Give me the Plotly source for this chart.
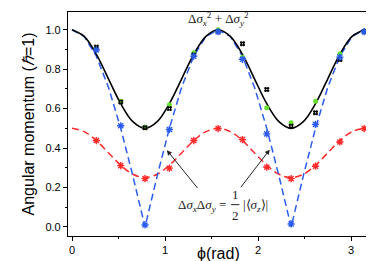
import plotly.graph_objects as go

# theory curves (read at phi = k*pi/24)
phi = [0, 0.131, 0.262, 0.393, 0.524, 0.654, 0.785, 0.916, 1.047, 1.178, 1.309, 1.440,
       1.571, 1.702, 1.833, 1.963, 2.094, 2.225, 2.356, 2.487, 2.618, 2.749, 2.880, 3.011, 3.142]
sum_var = [1, .966, .875, .75, .625, .534, .5, .534, .625, .75, .875, .966,
           1, .966, .875, .75, .625, .534, .5, .534, .625, .75, .875, .966, 1]
half_sz = [1, .966, .866, .707, .5, .259, 0, .259, .5, .707, .866, .966,
           1, .966, .866, .707, .5, .259, 0, .259, .5, .707, .866, .966, 1]
prod_dev = [.5, .483, .438, .375, .313, .267, .25, .267, .313, .375, .438, .483,
            .5, .483, .438, .375, .313, .267, .25, .267, .313, .375, .438, .483, .5]

# measured points (phi = k*pi/12)
mphi = [0.262, 0.524, 0.785, 1.047, 1.309, 1.571, 1.833, 2.094, 2.356, 2.618, 2.880, 3.142]
m_black = [0.912, 0.634, 0.503, 0.600, 0.872, 0.990, 0.929, 0.697, 0.511, 0.579, 0.849, 0.990]
m_green = [0.905, 0.638, 0.507, 0.620, 0.883, 1.000, 0.861, 0.604, 0.528, 0.638, 0.878, 0.995]
m_blue = [0.897, 0.513, 0.010, 0.494, 0.866, 0.990, 0.850, 0.472, 0.015, 0.520, 0.861, 0.990]
m_red = [0.438, 0.311, 0.245, 0.298, 0.438, 0.499, 0.443, 0.303, 0.245, 0.308, 0.431, 0.499]

BLUE = "#2b5cf0"
RED = "#ff2a2a"
GREEN = "#66e02a"

fig = go.Figure()
fig.add_trace(go.Scatter(x=phi, y=prod_dev, mode="lines",
                         line=dict(color=RED, width=1.5, dash="7px,4px", shape="spline")))
fig.add_trace(go.Scatter(x=phi, y=half_sz, mode="lines",
                         line=dict(color=BLUE, width=1.5, dash="7px,4px")))
fig.add_trace(go.Scatter(x=phi, y=sum_var, mode="lines",
                         line=dict(color="black", width=1.6, shape="spline")))
fig.add_trace(go.Scatter(x=mphi, y=m_green, mode="markers",
                         marker=dict(symbol="circle", size=5, color=GREEN)))
fig.add_trace(go.Scatter(x=mphi, y=m_black, mode="markers",
                         marker=dict(symbol="hash-open", size=5, color="black",
                                     line=dict(width=1.3, color="black"))))
fig.add_trace(go.Scatter(x=mphi, y=m_blue, mode="markers",
                         marker=dict(symbol="asterisk-open", size=6, color=BLUE,
                                     line=dict(width=1.4, color=BLUE))))
fig.add_trace(go.Scatter(x=mphi, y=m_red, mode="markers",
                         marker=dict(symbol="asterisk-open", size=6, color=RED,
                                     line=dict(width=1.4, color=RED))))

serif = dict(family="Liberation Serif", size=13, color="#222")
fig.add_annotation(x=1.571, y=1.055, xref="x", yref="y", showarrow=False,
                   text="Δ<i>σ</i><sub><i>x</i></sub><sup>2</sup> + Δ<i>σ</i><sub><i>y</i></sub><sup>2</sup>",
                   font=serif)
fig.add_annotation(x=1.68, y=0.11, xref="x", yref="y", showarrow=False, xanchor="right",
                   text="Δ<i>σ<sub>x</sub></i>Δ<i>σ<sub>y</sub></i> =", font=serif)
fig.add_annotation(x=1.755, y=0.165, xref="x", yref="y", showarrow=False,
                   text="1", font=serif)
fig.add_annotation(x=1.755, y=0.06, xref="x", yref="y", showarrow=False,
                   text="2", font=serif)
fig.add_shape(type="line", x0=1.71, x1=1.80, y0=0.113, y1=0.113, xref="x", yref="y",
              line=dict(color="#222", width=1))
fig.add_annotation(x=1.82, y=0.11, xref="x", yref="y", showarrow=False, xanchor="left",
                   text="|⟨<i>σ<sub>z</sub></i>⟩|", font=serif)
for tx, ty, hx, hy in [(1.362, 0.19, 1.02, 0.389), (1.803, 0.194, 2.126, 0.392)]:
    fig.add_annotation(x=hx, y=hy, ax=tx, ay=ty, xref="x", yref="y", axref="x", ayref="y",
                       text="", showarrow=True, arrowhead=2, arrowsize=1, arrowwidth=1,
                       arrowcolor="#222")

# x-axis title as annotation placed below tick labels
fig.add_annotation(x=1.57, y=-0.078, xref="x", yref="paper", yanchor="middle",
                   showarrow=False, text="ϕ(rad)",
                   font=dict(family="Liberation Sans", size=16, color="black"))

axis_common = dict(showgrid=False, zeroline=False, showline=True, linecolor="black",
                   linewidth=1.2, mirror=True, ticks="outside", ticklen=4,
                   tickcolor="black", tickfont=dict(family="Liberation Sans", size=11, color="black"))
fig.update_xaxes(range=[-0.043, 3.204], tickvals=[0, 1, 2, 3],
                 minor=dict(tickvals=[0.5, 1.5, 2.5], ticks="outside", ticklen=2, tickcolor="black"),
                 **axis_common)
fig.update_yaxes(range=[-0.046, 1.09], tickvals=[0, 0.2, 0.4, 0.6, 0.8, 1.0], tickformat=".1f",
                 minor=dict(tickvals=[0.1, 0.3, 0.5, 0.7, 0.9], ticks="outside", ticklen=2,
                            tickcolor="black"),
                 title=dict(text="Angular momentum (<i>ℏ</i>=1)",
                            font=dict(family="Liberation Sans", size=16, color="black"), standoff=6),
                 **axis_common)
fig.update_layout(width=374, height=261, showlegend=False, plot_bgcolor="white",
                  paper_bgcolor="white", margin=dict(l=60, r=12, t=4, b=33))
fig.write_html("out.html")
